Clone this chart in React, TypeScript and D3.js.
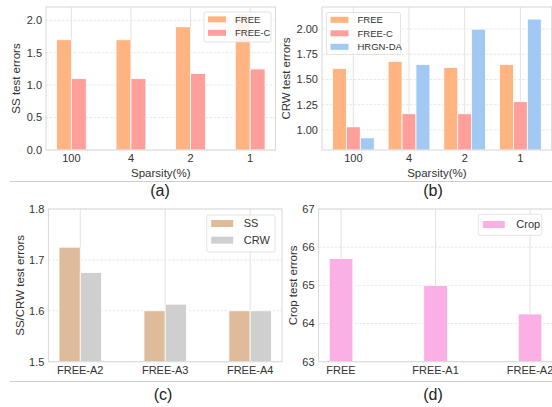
import * as d3 from 'd3';
import { useEffect, useRef } from 'react';

// panel (a) / (b): errors vs sparsity
const sparsity = ['100', '4', '2', '1'];
const ssFree = [1.7, 1.7, 1.9, 2.1];
const ssFreeC = [1.1, 1.1, 1.18, 1.25];
const crwFree = [1.61, 1.68, 1.62, 1.65];
const crwFreeC = [1.03, 1.16, 1.16, 1.28];
const crwHrgn = [0.92, 1.65, 2.0, 2.1];

// panel (c): ablations
const ablations = ['FREE-A2', 'FREE-A3', 'FREE-A4'];
const ablSS = [1.725, 1.6, 1.6];
const ablCRW = [1.675, 1.613, 1.6];

// panel (d): crop
const cropCats = ['FREE', 'FREE-A1', 'FREE-A2'];
const cropErr = [65.7, 65.0, 64.25];

const FONT = '"Liberation Sans", Arial, sans-serif';
const TXT = '#333333';

const App = () => {
    const ref = useRef<any>();

    function drawPanel(svg: any, p: any) {
        const g = svg.append('g');
        const x = d3.scaleLinear().domain(p.xDomain).range([p.left, p.right]);
        const y = d3.scaleLinear().domain(p.yDomain).range([p.bottom, p.top]);

        // grid: dashed horizontals, solid verticals
        g.selectAll('.hgrid').data(p.yTicks).join('line')
            .attr('x1', p.left).attr('x2', p.right)
            .attr('y1', (d: any) => y(d)).attr('y2', (d: any) => y(d))
            .attr('stroke', '#e2e2e2').attr('stroke-width', 0.8)
            .attr('stroke-dasharray', '2.5,1.5');
        g.selectAll('.vgrid').data(p.cats).join('line')
            .attr('x1', (d: any, i: number) => x(i)).attr('x2', (d: any, i: number) => x(i))
            .attr('y1', p.top).attr('y2', p.bottom)
            .attr('stroke', '#e2e2e2').attr('stroke-width', 1);

        // bars
        p.series.forEach((s: any) => {
            g.selectAll(null).data(s.values).join('rect')
                .attr('x', (d: any, i: number) => x(i + s.offset))
                .attr('width', (d: any, i: number) => x(i + s.offset + 0.25) - x(i + s.offset))
                .attr('y', (d: any) => y(d))
                .attr('height', (d: any) => y(p.yDomain[0]) - y(d))
                .attr('fill', s.color)
                .attr('stroke', 'white').attr('stroke-width', 0.8);
        });

        // frame
        g.append('rect')
            .attr('x', p.left).attr('y', p.top)
            .attr('width', p.right - p.left).attr('height', p.bottom - p.top)
            .attr('fill', 'none').attr('stroke', '#d8d8d8').attr('stroke-width', 1);

        // y ticks
        const fmt = d3.format(p.fmt);
        g.selectAll('.ytick').data(p.yTicks).join('text')
            .attr('x', p.left - 4).attr('y', (d: any) => y(d))
            .attr('dy', '0.35em').attr('text-anchor', 'end')
            .attr('font-family', FONT).attr('font-size', p.tickSize).attr('fill', TXT)
            .text((d: any) => fmt(d));

        // x ticks
        g.selectAll('.xtick').data(p.cats).join('text')
            .attr('x', (d: any, i: number) => x(i)).attr('y', p.bottom + 12)
            .attr('text-anchor', 'middle')
            .attr('font-family', FONT).attr('font-size', p.tickSize).attr('fill', TXT)
            .text((d: any) => d);

        if (p.xlabel) {
            g.append('text')
                .attr('x', (p.left + p.right) / 2).attr('y', p.bottom + 27)
                .attr('text-anchor', 'middle')
                .attr('font-family', FONT).attr('font-size', 11.5).attr('fill', TXT)
                .text(p.xlabel);
        }

        g.append('text')
            .attr('transform', `translate(${p.ylabelX},${(p.top + p.bottom) / 2}) rotate(-90)`)
            .attr('text-anchor', 'middle').attr('dy', '0.35em')
            .attr('font-family', FONT).attr('font-size', 11.5).attr('fill', TXT)
            .text(p.ylabel);

        // legend
        const L = p.legend;
        const lg = g.append('g');
        lg.append('rect')
            .attr('x', L.x).attr('y', L.y).attr('width', L.w).attr('height', L.h)
            .attr('rx', 2).attr('fill', 'white').attr('fill-opacity', 0.85)
            .attr('stroke', '#dcdcdc').attr('stroke-width', 0.8);
        p.series.forEach((s: any, i: number) => {
            const cy = L.y + L.first + i * L.rowH;
            lg.append('rect')
                .attr('x', L.x + L.patchX).attr('y', cy - L.patchH / 2)
                .attr('width', L.patchW).attr('height', L.patchH)
                .attr('fill', s.color);
            lg.append('text')
                .attr('x', L.x + L.textX).attr('y', cy).attr('dy', '0.35em')
                .attr('font-family', FONT).attr('font-size', L.font).attr('fill', TXT)
                .text(s.name);
        });

        svg.append('text')
            .attr('x', p.tagX).attr('y', p.tagY)
            .attr('text-anchor', 'middle')
            .attr('font-family', FONT).attr('font-size', 16).attr('fill', '#222')
            .text(p.tag);
    }

    useEffect(() => {
        const svg = d3.select<any, any>(ref.current);
        svg.selectAll('*').remove();

        // separators under each row of subfigures
        [181.5, 381.5].forEach((yy) => {
            svg.append('line')
                .attr('x1', 10).attr('x2', 552).attr('y1', yy).attr('y2', yy)
                .attr('stroke', '#cfcfcf').attr('stroke-width', 1);
        });

        const smallLegend = { font: 9.5, rowH: 13.5, first: 7.3, patchX: 4, patchW: 18, patchH: 6, textX: 31 };
        const bigLegend = { font: 11, rowH: 16.7, first: 8.5, patchX: 4.5, patchW: 22, patchH: 7, textX: 37 };

        drawPanel(svg, {
            left: 46, right: 275.5, top: 7, bottom: 150,
            xDomain: [-0.425, 3.425], yDomain: [0, 2.205],
            yTicks: [0, 0.5, 1, 1.5, 2], fmt: '.1f', tickSize: 11,
            cats: sparsity,
            series: [
                { name: 'FREE', values: ssFree, color: '#ffb482', offset: -0.25 },
                { name: 'FREE-C', values: ssFreeC, color: '#ff9f9b', offset: 0 },
            ],
            xlabel: 'Sparsity(%)', ylabel: 'SS test errors', ylabelX: 16,
            legend: { x: 204, y: 12, w: 67, h: 30, ...smallLegend },
            tag: '(a)', tagX: 160, tagY: 196,
        });

        drawPanel(svg, {
            left: 322, right: 551.7, top: 7, bottom: 150,
            xDomain: [-0.5625, 3.5625], yDomain: [0.8, 2.22],
            yTicks: [1, 1.25, 1.5, 1.75, 2], fmt: '.2f', tickSize: 11,
            cats: sparsity,
            series: [
                { name: 'FREE', values: crwFree, color: '#ffb482', offset: -0.375 },
                { name: 'FREE-C', values: crwFreeC, color: '#ff9f9b', offset: -0.125 },
                { name: 'HRGN-DA', values: crwHrgn, color: '#a1c9f4', offset: 0.125 },
            ],
            xlabel: 'Sparsity(%)', ylabel: 'CRW test errors', ylabelX: 286,
            legend: { x: 326.5, y: 12.5, w: 74, h: 42, ...smallLegend },
            tag: '(b)', tagX: 433, tagY: 196,
        });

        drawPanel(svg, {
            left: 48.4, right: 282, top: 209, bottom: 361.7,
            xDomain: [-0.375, 2.375], yDomain: [1.5, 1.8],
            yTicks: [1.5, 1.6, 1.7, 1.8], fmt: '.1f', tickSize: 11,
            cats: ablations,
            series: [
                { name: 'SS', values: ablSS, color: '#debb9b', offset: -0.25 },
                { name: 'CRW', values: ablCRW, color: '#cfcfcf', offset: 0 },
            ],
            xlabel: null, ylabel: 'SS/CRW test errors', ylabelX: 20,
            legend: { x: 206.7, y: 215, w: 68.3, h: 37, ...bigLegend },
            tag: '(c)', tagX: 163, tagY: 400,
        });

        drawPanel(svg, {
            left: 318.6, right: 552.5, top: 209, bottom: 361.7,
            xDomain: [-0.2375, 2.2375], yDomain: [63, 67],
            yTicks: [63, 64, 65, 66, 67], fmt: 'd', tickSize: 11,
            cats: cropCats,
            series: [
                { name: 'Crop', values: cropErr, color: '#fab0e4', offset: -0.125 },
            ],
            xlabel: null, ylabel: 'Crop test errors', ylabelX: 292.5,
            legend: { x: 478.3, y: 214.3, w: 63.4, h: 21, ...bigLegend, first: 10.2, textX: 38 },
            tag: '(d)', tagX: 433, tagY: 400,
        });
    });

    return (
        <svg ref={ref} width={552} height={407}
            style={{ position: 'absolute', left: 0, top: 0, background: 'white' }}></svg>
    );
};

export default App;
